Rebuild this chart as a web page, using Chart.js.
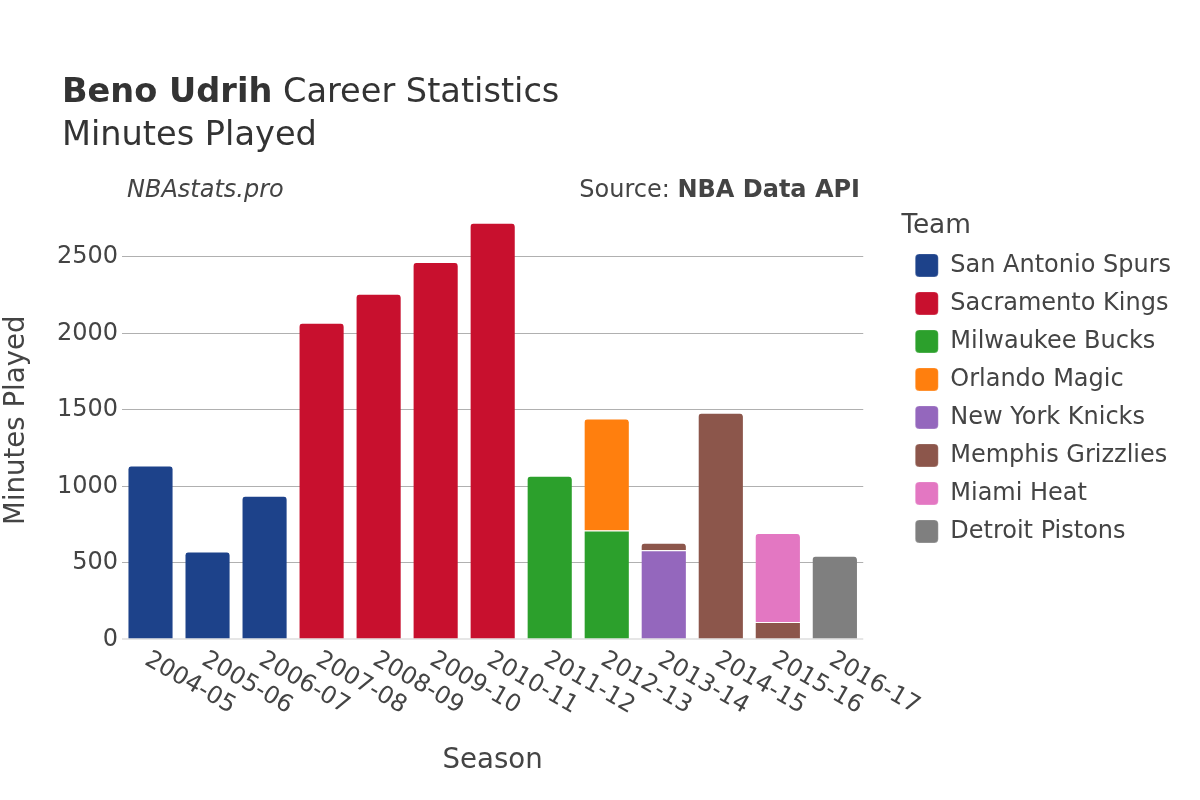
<!DOCTYPE html>
<html>
<head>
<meta charset="utf-8">
<script src="https://cdn.jsdelivr.net/npm/chart.js@4"></script>
<style>
  html, body { margin: 0; padding: 0; background: #fff; }
  .wrap { width: 1200px; height: 800px; position: relative; }
</style>
</head>
<body>
<div class="wrap"><canvas class="minutes-chart"></canvas></div>
<script>
const seasons = ['2004-05', '2005-06', '2006-07', '2007-08', '2008-09', '2009-10', '2010-11',
  '2011-12', '2012-13', '2013-14', '2014-15', '2015-16', '2016-17'];

const spurs     = [1137, 575, 939, null, null, null, null, null, null, null, null, null, null];
const kings     = [null, null, null, 2069, 2259, 2466, 2723, null, null, null, null, null, null];
const bucks     = [null, null, null, null, null, null, null, 1069, 712, null, null, null, null];
const magic     = [null, null, null, null, null, null, null, null, 732, null, null, null, null];
const knicks    = [null, null, null, null, null, null, null, null, null, 582, null, null, null];
const grizzlies = [null, null, null, null, null, null, null, null, null, 50, 1482, 113, null];
const heat      = [null, null, null, null, null, null, null, null, null, null, null, 582, null];
const pistons   = [null, null, null, null, null, null, null, null, null, null, null, null, 547];

const yTicks = [0, 500, 1000, 1500, 2000, 2500];

Chart.defaults.font.family = '"DejaVu Sans", sans-serif';
Chart.defaults.color = '#444';

function team (label, data, color) {
  return {
    label: label,
    data: data,
    backgroundColor: color,
    borderColor: '#fff',
    borderWidth: { top: 1, left: 0, right: 0, bottom: 0 },
    borderRadius: 4,
    borderSkipped: 'start'
  };
}

// titles, source line and rotated season labels
const decorations = {
  id: 'decorations',
  afterDraw (chart) {
    const ctx = chart.ctx;
    ctx.save();
    ctx.fillStyle = '#333';
    ctx.textBaseline = 'alphabetic';
    ctx.textAlign = 'left';
    ctx.font = 'bold 33.6px "DejaVu Sans"';
    ctx.fillText('Beno Udrih', 62, 102);
    const w = ctx.measureText('Beno Udrih').width;
    ctx.font = '33.6px "DejaVu Sans"';
    ctx.fillText(' Career Statistics', 62 + w, 102);
    ctx.fillText('Minutes Played', 62, 145);

    ctx.fillStyle = '#444';
    ctx.textBaseline = 'middle';
    ctx.font = 'italic 24px "DejaVu Sans"';
    ctx.fillText('NBAstats.pro', 127, 191);

    ctx.textAlign = 'right';
    ctx.font = 'bold 24px "DejaVu Sans"';
    ctx.fillText('NBA Data API', 860, 191);
    const bw = ctx.measureText('NBA Data API').width;
    ctx.font = '24px "DejaVu Sans"';
    ctx.fillText('Source: ', 860 - bw, 191);

    const x = chart.scales.x;
    ctx.textAlign = 'left';
    ctx.textBaseline = 'middle';
    ctx.font = '24px "DejaVu Sans"';
    chart.data.labels.forEach((lab, i) => {
      ctx.save();
      ctx.translate(x.getPixelForTick(i) - 4, 658);
      ctx.rotate(Math.PI / 6);
      ctx.fillText(lab, 0, 0);
      ctx.restore();
    });
    ctx.restore();
  }
};

function displayMinutesChart () {
  const ctx = document.querySelector('.minutes-chart');

  new Chart(ctx, {
    type: 'bar',
    data: {
      labels: seasons,
      datasets: [
        team('San Antonio Spurs', spurs, '#1d428a'),
        team('Sacramento Kings', kings, '#c8102e'),
        team('Milwaukee Bucks', bucks, '#2ca02c'),
        team('Orlando Magic', magic, '#ff7f0e'),
        team('New York Knicks', knicks, '#9467bd'),
        team('Memphis Grizzlies', grizzlies, '#8c564b'),
        team('Miami Heat', heat, '#e377c2'),
        team('Detroit Pistons', pistons, '#7f7f7f')
      ]
    },
    options: {
      responsive: true,
      maintainAspectRatio: false,
      animation: false,
      categoryPercentage: 1,
      barPercentage: 0.78,
      layout: { padding: { top: 201, right: 19, bottom: 23, left: 0 } },
      plugins: {
        tooltip: { enabled: false },
        legend: {
          position: 'right',
          align: 'start',
          maxWidth: 320,
          title: {
            display: true,
            text: 'Team',
            position: 'start',
            color: '#444',
            font: { size: 26.4, lineHeight: 1 },
            padding: { top: 12, bottom: 0 }
          },
          labels: {
            boxWidth: 23,
            boxHeight: 23,
            useBorderRadius: true,
            borderRadius: 4,
            padding: 14,
            color: '#444',
            font: { size: 24 }
          }
        }
      },
      scales: {
        x: {
          stacked: true,
          grid: { display: false },
          border: { display: false },
          ticks: { display: false },
          title: {
            display: true,
            text: 'Season',
            color: '#444',
            font: { size: 27.6 },
            padding: 0
          },
          afterFit: s => { s.height = 137.6; }
        },
        y: {
          stacked: true,
          min: 0,
          max: 2865,
          border: { display: false },
          afterBuildTicks: s => { s.ticks = yTicks.map(v => ({ value: v })); },
          ticks: {
            autoSkip: false,
            padding: 4,
            color: '#444',
            font: { size: 24 },
            callback: v => String(v)
          },
          grid: {
            drawTicks: false,
            color: c => (c.tick && c.tick.value === 0 ? '#e6e6e6' : '#b0b0b0'),
            lineWidth: c => (c.tick && c.tick.value === 0 ? 2 : 1)
          },
          title: {
            display: true,
            text: 'Minutes Played',
            color: '#444',
            font: { size: 27.6 },
            padding: 0
          },
          afterFit: s => { s.width = 122; }
        },
        gap: {
          position: 'right',
          display: true,
          grid: { display: false },
          border: { display: false },
          ticks: { display: false },
          afterFit: s => { s.width = 38; }
        }
      }
    },
    plugins: [decorations]
  });
}

displayMinutesChart();
</script>
</body>
</html>
